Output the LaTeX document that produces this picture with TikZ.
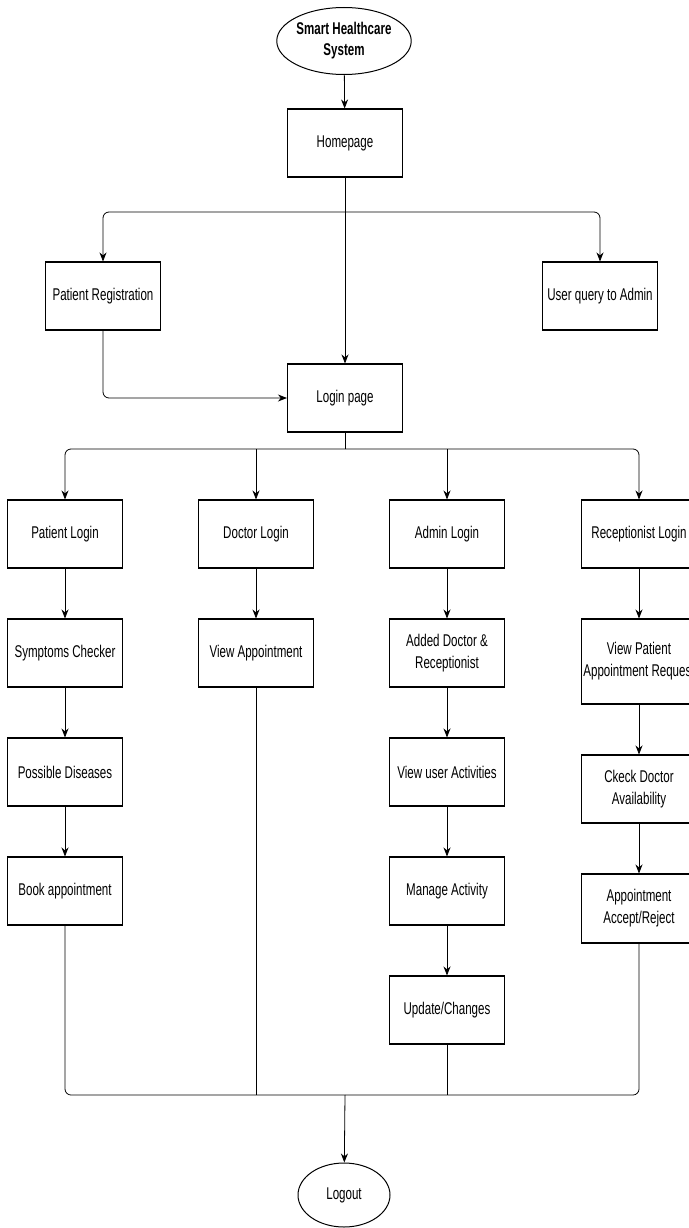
\documentclass[tikz,border=0pt]{standalone}
\usepackage{fontspec}
\setmainfont{Liberation Sans}[FakeStretch=0.68]
\usetikzlibrary{arrows.meta,shapes.geometric,positioning}

\begin{document}
\begin{tikzpicture} [x=1pt,y=-1pt,{box/.style={rectangle,draw=black,line width=1.1pt,minimum width=115pt,minimum height=68pt,inner sep=0pt,align=center,font=\fontsize{17}{22}\selectfont}},{term/.style={ellipse,draw=black,line width=1pt,inner sep=0pt,align=center,font=\fontsize{17}{21}\selectfont}},{linest/.style={line width=0.8pt}},{arr/.style={linest,-{Stealth[length=9pt,width=7pt]}}}]
		%%page
		\fill [white] (0,0) rectangle (688,1228);
		\useasboundingbox (0,0) rectangle (688,1228);
		%%top part
		\node at (344,41) [term,minimum width=128pt,minimum height=67pt,font=\fontsize{17}{21}\selectfont\bfseries] (start) {Smart Healthcare\\System};
		\node at (345,143) [box] (home) {Homepage};
		\node at (103,296) [box] (preg) {Patient Registration};
		\node at (600,296) [box] (query) {User query to Admin};
		\node at (345,398) [box] (login) {Login page};
		\coordinate (split1) at (345,212);
		\coordinate (split2) at (345,449);
		\coordinate (merge) at (345,1095);
		%%patient column
		\node at (65,534) [box] (plogin) {Patient Login};
		\node at (65,653) [box] (symp) {Symptoms Checker};
		\node at (65,772) [box] (dis) {Possible Diseases};
		\node at (65,891) [box] (book) {Book appointment};
		%%doctor column
		\node at (256,534) [box] (dlogin) {Doctor Login};
		\node at (256,653) [box] (viewapp) {View Appointment};
		%%admin column
		\node at (447,534) [box] (alogin) {Admin Login};
		\node at (447,653) [box] (added) {Added Doctor \&\\Receptionist};
		\node at (447,772) [box] (act) {View user Activities};
		\node at (447,891) [box] (manage) {Manage Activity};
		\node at (447,1010) [box] (update) {Update/Changes};
		%%receptionist column
		\node at (639,534) [box] (rlogin) {Receptionist Login};
		\node at (639,661.5) [box,minimum height=85pt] (req) {View Patient\\Appointment Request};
		\node at (639,789) [box] (check) {Ckeck Doctor\\Availability};
		\node at (639,908.5) [box,minimum height=69pt] (accept) {Appointment\\Accept/Reject};
		%%end
		\node at (344,1195) [term,minimum width=92pt,minimum height=64pt] (logout) {Logout};
		%%connectors top
		\draw [arr] (start) -- (home);
		\draw [arr] (home) -- (login);
		\draw [arr,rounded corners=6pt] (split1) -| (preg);
		\draw [arr,rounded corners=6pt] (split1) -| (query);
		\draw [arr,rounded corners=6pt] (preg) |- (login);
		%%connectors to columns
		\draw [linest] (login) -- (split2);
		\draw [arr,rounded corners=6pt] (split2) -| (plogin);
		\draw [arr,rounded corners=6pt] (split2) -| (rlogin);
		\draw [arr] (dlogin |- split2) -- (dlogin);
		\draw [arr] (alogin |- split2) -- (alogin);
		\draw [arr] (plogin) -- (symp);
		\draw [arr] (symp) -- (dis);
		\draw [arr] (dis) -- (book);
		\draw [arr] (dlogin) -- (viewapp);
		\draw [arr] (alogin) -- (added);
		\draw [arr] (added) -- (act);
		\draw [arr] (act) -- (manage);
		\draw [arr] (manage) -- (update);
		\draw [arr] (rlogin) -- (req);
		\draw [arr] (req) -- (check);
		\draw [arr] (check) -- (accept);
		%%connectors to logout
		\draw [linest,rounded corners=6pt] (book) |- (merge);
		\draw [linest,rounded corners=6pt] (accept) |- (merge);
		\draw [linest] (viewapp) -- (viewapp |- merge);
		\draw [linest] (update) -- (update |- merge);
		\draw [arr] (merge) -- (logout);
	\end{tikzpicture}
\end{document}
